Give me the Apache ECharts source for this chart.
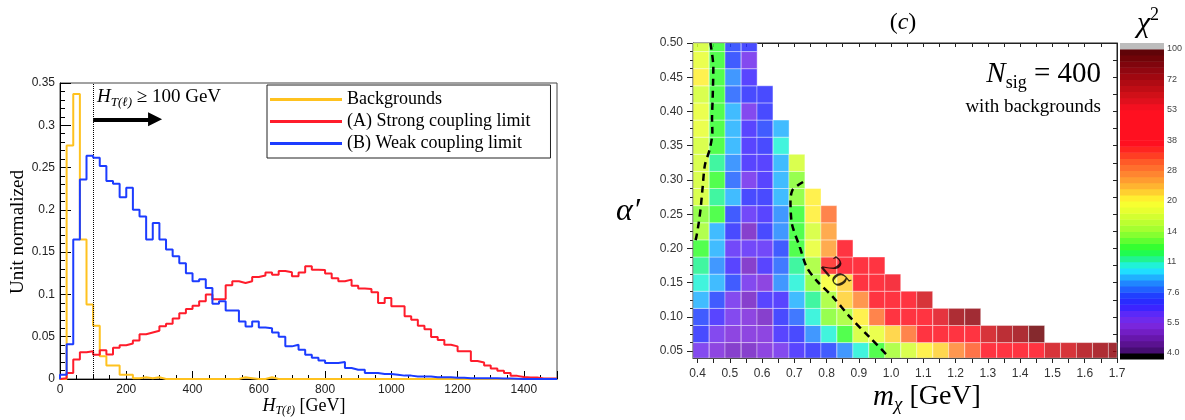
<!DOCTYPE html>
<html>
<head>
<meta charset="utf-8">
<script src="https://cdn.jsdelivr.net/npm/echarts@6.0.0/dist/echarts.min.js"></script>
<style>
html,body{margin:0;padding:0;background:#ffffff;}
#chart{width:1185px;height:420px;}
</style>
</head>
<body>
<div id="chart"></div>
<script>
// ================= LEFT PANEL DATA: H_T(l) distributions, 20 GeV bins =================
const binWidth = 20;
const htMax = 1500;
const htCut = 100;
const arrowEnd = 287;
const arrowLevel = 0.307;
const seriesNames = ['Backgrounds', '(A) Strong coupling limit', '(B) Weak coupling limit'];

const backgroundsValues = [
  0, 0.276, 0.337, 0.165, 0.088, 0.063, 0.027, 0.016, 0.016, 0.005,
  0.005, 0.001, 0.002, 0.001, 0.002, 0, 0, 0, 0, 0,
  0, 0, 0, 0, 0, 0, 0, 0.002, 0.001, 0,
  0, 0.002, 0, 0, 0, 0, 0, 0, 0, 0,
  0, 0, 0, 0, 0, 0, 0, 0, 0, 0,
  0, 0, 0, 0, 0, 0, 0, 0, 0, 0,
  0, 0, 0, 0, 0, 0, 0, 0, 0, 0,
  0, 0, 0, 0, 0
];
const strongValues = [
  0.001, 0.007, 0.023, 0.0315, 0.0327, 0.0288, 0.034, 0.029, 0.037, 0.040,
  0.042, 0.0455, 0.053, 0.055, 0.057, 0.0625, 0.0654, 0.0715, 0.0778, 0.0828,
  0.0867, 0.0919, 0.0998, 0.0942, 0.0946, 0.1108, 0.1155, 0.1136, 0.1155, 0.1207,
  0.1223, 0.126, 0.1234, 0.1277, 0.1262, 0.1215, 0.126, 0.1333, 0.1292, 0.1288,
  0.1248, 0.119, 0.1155, 0.1175, 0.1102, 0.107, 0.1065, 0.1025, 0.090, 0.0958,
  0.086, 0.086, 0.0741, 0.070, 0.063, 0.0587, 0.0497, 0.046, 0.0406, 0.0386,
  0.0327, 0.0327, 0.0212, 0.0195, 0.016, 0.0124, 0.0099, 0.0071, 0.0037, 0.0023,
  0.0019, 0.0019, 0.0005, 0.0005, 0.0005
];
const weakValues = [
  0.005, 0.041, 0.165, 0.236, 0.264, 0.2615, 0.252, 0.234, 0.231, 0.215,
  0.226, 0.200, 0.192, 0.165, 0.1845, 0.165, 0.153, 0.145, 0.137, 0.125,
  0.1155, 0.118, 0.1075, 0.089, 0.092, 0.081, 0.081, 0.068, 0.062, 0.068,
  0.061, 0.060, 0.055, 0.050, 0.0386, 0.0406, 0.0347, 0.0288, 0.025, 0.022,
  0.019, 0.019, 0.020, 0.013, 0.011, 0.011, 0.007, 0.007, 0.006, 0.006,
  0.005, 0.004, 0.004, 0.003, 0.003, 0.003, 0.002, 0.002, 0.002, 0.0015,
  0.0015, 0.001, 0.001, 0.001, 0.001, 0.0008, 0.0005, 0.0005, 0.0003, 0,
  0, 0, 0, 0, 0
];

// ================= RIGHT PANEL DATA: chi^2 map in (m_chi, alpha') =================
const massCenters = [0.411, 0.461, 0.510, 0.560, 0.609, 0.659, 0.708, 0.758, 0.807, 0.857,
  0.906, 0.956, 1.005, 1.055, 1.104, 1.154, 1.203, 1.253, 1.302, 1.352,
  1.401, 1.451, 1.500, 1.550, 1.599, 1.649, 1.698];
const alphaCenters = [0.05, 0.075, 0.1, 0.125, 0.15, 0.175, 0.2, 0.225, 0.25, 0.275,
  0.3, 0.325, 0.35, 0.375, 0.4, 0.425, 0.45, 0.475, 0.5];
// one row per alpha' value (bottom to top), cells from the lowest mass upward
const chi2Rows = [
  [5.6, 5.3, 5.1, 5.1, 5.3, 5.6, 6.3, 6.9, 7.4, 8.2, 9.9, 12.0, 15.0, 16.5, 20.0, 22.4, 25.9, 30.4, 42, 42, 42, 44, 62, 62, 68, 75, 80],
  [6.9, 5.6, 5.5, 5.4, 5.4, 6.4, 6.9, 8.5, 9.9, 12.0, 16.5, 18.2, 22.4, 27.6, 42, 42, 42, 52, 62, 68, 76, 91],
  [7.4, 6.3, 5.7, 5.5, 5.1, 6.9, 8.0, 10.5, 13.8, 15.2, 20.0, 27.6, 42, 42, 43, 58, 75, 80],
  [8.8, 7.3, 5.6, 5.1, 6.4, 6.4, 9.2, 11.2, 15.2, 22.4, 25.9, 42, 42, 42, 62],
  [9.9, 8.8, 7.3, 5.6, 5.3, 8.5, 9.9, 13.8, 19.0, 22.4, 40, 42, 55],
  [10.7, 8.5, 6.4, 5.1, 6.4, 8.0, 11.2, 15.0, 34, 42, 42, 42],
  [12.7, 9.2, 6.1, 6.1, 6.1, 7.3, 12.0, 18.2, 24.3, 42],
  [15.2, 9.2, 6.9, 5.1, 6.9, 8.5, 12.5, 16.8, 24.3],
  [14.0, 12.0, 7.4, 6.1, 6.4, 8.5, 12.7, 20.0, 27.6],
  [16.5, 10.7, 9.2, 6.9, 6.8, 9.2, 14.0, 21.3],
  [16.8, 12.0, 8.0, 5.6, 6.4, 9.2, 14.0],
  [17.5, 11.2, 8.5, 6.4, 6.3, 9.2, 16.5],
  [16.5, 12.7, 8.8, 6.4, 6.9, 9.9],
  [18.5, 12.7, 8.8, 6.4, 7.4, 9.2],
  [18.5, 12.0, 8.8, 5.6, 6.8],
  [17.5, 12.7, 8.0, 6.8, 6.8],
  [20.0, 12.5, 8.5, 6.4],
  [18.5, 12.5, 7.3, 5.7],
  [16.8, 12.0, 7.4, 6.9]
];
const massTickLabels = [0.4, 0.5, 0.6, 0.7, 0.8, 0.9, 1.0, 1.1, 1.2, 1.3, 1.4, 1.5, 1.6, 1.7];
const alphaTickLabels = [0.05, 0.10, 0.15, 0.20, 0.25, 0.30, 0.35, 0.40, 0.45, 0.50];
const chi2TickLabels = ['4.0', '5.5', '7.6', '11', '14', '20', '28', '38', '53', '72', '100'];
const contourLeft = [[0.440, 0.50], [0.449, 0.465], [0.447, 0.42], [0.445, 0.39], [0.446, 0.37],
  [0.438, 0.345], [0.423, 0.322], [0.416, 0.29], [0.410, 0.26], [0.404, 0.238], [0.396, 0.216], [0.389, 0.205]];
const contourRight = [[0.727, 0.297], [0.71, 0.292], [0.694, 0.285], [0.688, 0.27], [0.691, 0.24],
  [0.697, 0.228], [0.717, 0.202], [0.738, 0.173], [0.769, 0.153], [0.82, 0.129], [0.872, 0.1],
  [0.934, 0.07], [0.99, 0.043]];
const sigmaLabelPos = [0.828, 0.164];

// ================= palette (log chi^2 scale, 4 .. 100, 50 bands) =================
const chi2Min = 4, chi2Max = 100, nBands = 50;
const paletteStops = [
  [0.0, '#3c0a64'], [0.3, '#5a1290'], [0.6, '#6e1ab8'], [0.9, '#7a26dc'], [1.2, '#6a2cf4'],
  [1.5, '#3c24ff'], [1.8, '#2030ff'], [2.0, '#2050ff'], [2.2, '#2074ff'], [2.4, '#2098ff'],
  [2.6, '#20c8ff'], [2.8, '#20f4ff'], [3.0, '#20f0b0'], [3.2, '#20f870'], [3.4, '#20ff30'],
  [3.7, '#60ff30'], [4.0, '#98ff30'], [4.4, '#c8ff30'], [4.7, '#e8ff30'], [5.0, '#ffff30'],
  [5.2, '#ffe030'], [5.4, '#ffc030'], [5.6, '#ffa830'], [5.8, '#ff9030'], [6.0, '#ff7a30'],
  [6.3, '#ff5a28'], [6.6, '#ff3020'], [6.9, '#ff1020'], [8.0, '#ff1020'], [8.2, '#e81020'],
  [8.5, '#d01018'], [8.8, '#b80c14'], [9.1, '#a00810'], [9.4, '#880610'], [9.7, '#700408'],
  [10.0, '#580408']
];
function hexRgb(h) { return [parseInt(h.slice(1, 3), 16), parseInt(h.slice(3, 5), 16), parseInt(h.slice(5, 7), 16)]; }
function paletteAt(t) {
  if (t <= paletteStops[0][0]) return hexRgb(paletteStops[0][1]);
  for (let i = 1; i < paletteStops.length; i++) {
    if (t <= paletteStops[i][0]) {
      const a = paletteStops[i - 1], b = paletteStops[i];
      const f = (t - a[0]) / (b[0] - a[0]);
      const ca = hexRgb(a[1]), cb = hexRgb(b[1]);
      return ca.map((c, k) => Math.round(c + (cb[k] - c) * f));
    }
  }
  return hexRgb(paletteStops[paletteStops.length - 1][1]);
}
const bandStep = 10 / nBands;
const bandRgb = [];
for (let b = 0; b < nBands; b++) bandRgb.push(paletteAt((b + 0.5) * bandStep));
function chi2ToT(v) { return 10 * Math.log(v / chi2Min) / Math.log(chi2Max / chi2Min); }
function cellColor(v) {
  const t = chi2ToT(v);
  if (t < 0) return 'rgba(0,0,0,0.85)';
  const b = Math.min(nBands - 1, Math.floor(t / bandStep));
  const c = bandRgb[b];
  return 'rgba(' + c[0] + ',' + c[1] + ',' + c[2] + ',0.85)';
}

// ================= build series data =================
function stepData(vals) {
  const d = [[0, 0]];
  vals.forEach((v, k) => d.push([k * binWidth, v]));
  d.push([htMax, vals[vals.length - 1]]);
  return d;
}
const heatData = [];
chi2Rows.forEach((row, j) => row.forEach((v, i) => heatData.push([massCenters[i], alphaCenters[j], v])));
const cellW = 0.0495, cellH = 0.025;
const bandData = [[-0.2, 0, -1]];
for (let b = 0; b < nBands; b++) bandData.push([b * bandStep, (b + 1) * bandStep, b]);
bandData.push([10, 10.2, nBands]);

function range(a, b, s) { const r = []; for (let v = a; v <= b + 1e-9; v += s) r.push(Math.round(v * 10000) / 10000); return r; }
const massTicks = range(0.4, 1.7, 0.05);
const alphaMinorTicks = range(0.05, 0.5, 0.0125);
const alphaRightTicks = range(0.05, 0.5, 0.025);

const SERIF = '"Liberation Serif", "DejaVu Serif", serif';
const SANS = '"Liberation Sans", Arial, sans-serif';
const colors = { bg: '#ffc21f', strong: '#ff1c2b', weak: '#1c3cff' };

function textEl(x, y, text, rich, opt) {
  opt = opt || {};
  return {
    type: 'text', x: x, y: y, rotation: opt.rotation || 0, silent: true, z: 100,
    style: {
      text: text, rich: rich, fill: '#000',
      align: opt.align || 'center', textAlign: opt.align || 'center',
      verticalAlign: 'middle', textVerticalAlign: 'middle',
      fontFamily: SERIF, fontSize: opt.fontSize || 17
    }
  };
}
function rs(size, italic, extra) {
  return Object.assign({ fontFamily: SERIF, fontSize: size, fontStyle: italic ? 'italic' : 'normal', lineHeight: Math.round(size * 1.3), fill: '#000' }, extra || {});
}

const option = {
  animation: false,
  backgroundColor: '#ffffff',
  textStyle: { fontFamily: SANS },
  grid: [
    { left: 60, top: 83, width: 497, height: 296, show: true, borderColor: '#444', borderWidth: 1, backgroundColor: 'transparent' },
    { left: 693, top: 43, width: 424, height: 315, show: true, borderColor: '#222', borderWidth: 1, backgroundColor: 'transparent' },
    { left: 1120, top: 49, width: 46, height: 304, show: false }
  ],
  legend: {
    data: seriesNames, orient: 'vertical', left: 267, top: 85,
    padding: [5, 20, 5, 3], itemWidth: 72, itemHeight: 3, itemGap: 3, icon: 'rect',
    backgroundColor: '#ffffff', borderColor: '#222', borderWidth: 1, borderRadius: 0,
    selectedMode: false,
    textStyle: { fontFamily: SERIF, fontSize: 18, color: '#000', lineHeight: 19 }
  },
  xAxis: [
    { gridIndex: 0, type: 'value', min: 0, max: htMax, interval: 200, position: 'bottom',
      axisLine: { lineStyle: { color: '#000', width: 1 } },
      axisTick: { inside: true, length: 8, lineStyle: { color: '#000' } },
      axisLabel: { fontFamily: SANS, fontSize: 12, color: '#222', margin: 5,
        formatter: v => (v % 200 === 0 ? String(v) : '') },
      splitLine: { show: false } },
    { gridIndex: 0, type: 'value', min: 0, max: htMax, interval: 50, position: 'bottom',
      axisLine: { show: false },
      axisTick: { inside: true, length: 4, lineStyle: { color: '#000' } },
      axisLabel: { show: false }, splitLine: { show: false } },
    { gridIndex: 1, type: 'value', min: 0.386, max: 1.7, position: 'bottom',
      axisLine: { lineStyle: { color: '#222', width: 1 } },
      axisTick: { customValues: massTicks, length: 5, lineStyle: { color: '#222' } },
      axisLabel: { customValues: massTickLabels, fontFamily: SANS, fontSize: 12, color: '#333', margin: 10,
        formatter: v => v.toFixed(1) },
      splitLine: { show: false } },
    { gridIndex: 1, type: 'value', min: 0.386, max: 1.7, position: 'top',
      axisLine: { lineStyle: { color: '#222', width: 1 } },
      axisTick: { customValues: massTicks, inside: true, length: 4, lineStyle: { color: '#222' } },
      axisLabel: { show: false }, splitLine: { show: false } },
    { gridIndex: 2, type: 'value', min: 0, max: 1, show: false }
  ],
  yAxis: [
    { gridIndex: 0, type: 'value', min: 0, max: 0.35, interval: 0.05, position: 'left',
      axisLine: { lineStyle: { color: '#000', width: 1 } },
      axisTick: { inside: true, length: 11, lineStyle: { color: '#000' } },
      minorTick: { show: true, splitNumber: 5, length: 5, lineStyle: { color: '#000' } },
      axisLabel: { fontFamily: SANS, fontSize: 12, color: '#222', margin: 5 },
      splitLine: { show: false } },
    { gridIndex: 1, type: 'value', min: 0.04, max: 0.5, position: 'left',
      axisLine: { lineStyle: { color: '#222', width: 1 } },
      axisTick: { customValues: alphaTickLabels, length: 6, lineStyle: { color: '#222' } },
      axisLabel: { customValues: alphaTickLabels, fontFamily: SANS, fontSize: 12, color: '#333', margin: 10,
        formatter: v => v.toFixed(2) },
      splitLine: { show: false } },
    { gridIndex: 1, type: 'value', min: 0.04, max: 0.5, position: 'left',
      axisLine: { show: false },
      axisTick: { customValues: alphaMinorTicks, length: 3, lineStyle: { color: '#222' } },
      axisLabel: { show: false }, splitLine: { show: false } },
    { gridIndex: 1, type: 'value', min: 0.04, max: 0.5, position: 'right',
      axisLine: { lineStyle: { color: '#222', width: 1 } },
      axisTick: { customValues: alphaRightTicks, inside: true, length: 4, lineStyle: { color: '#222' } },
      axisLabel: { show: false }, splitLine: { show: false } },
    { gridIndex: 2, type: 'value', min: 0, max: 10, interval: 1, position: 'right',
      axisLine: { show: false }, axisTick: { show: false },
      axisLabel: { fontFamily: SANS, fontSize: 9, color: '#444', margin: 3,
        formatter: v => chi2TickLabels[Math.round(v)] },
      splitLine: { show: false } }
  ],
  series: [
    { name: seriesNames[0], type: 'line', xAxisIndex: 0, yAxisIndex: 0, step: 'end', symbol: 'none',
      data: stepData(backgroundsValues), color: colors.bg, lineStyle: { color: colors.bg, width: 2 }, z: 3 },
    { name: seriesNames[1], type: 'line', xAxisIndex: 0, yAxisIndex: 0, step: 'end', symbol: 'none',
      data: stepData(strongValues), color: colors.strong, lineStyle: { color: colors.strong, width: 2 }, z: 4 },
    { name: seriesNames[2], type: 'line', xAxisIndex: 0, yAxisIndex: 0, step: 'end', symbol: 'none',
      data: stepData(weakValues), color: colors.weak, lineStyle: { color: colors.weak, width: 2 }, z: 5 },
    { type: 'line', xAxisIndex: 0, yAxisIndex: 0, data: [], symbol: 'none',
      markLine: { silent: true, symbol: ['none', 'none'], label: { show: false },
        lineStyle: { type: 'dotted', color: '#000', width: 1 },
        data: [{ xAxis: htCut }] } },
    { type: 'line', xAxisIndex: 0, yAxisIndex: 0, data: [], symbol: 'none',
      markLine: { silent: true, symbol: ['none', 'triangle'], symbolSize: 14, label: { show: false },
        lineStyle: { type: 'solid', color: '#000', width: 4 },
        itemStyle: { color: '#000' },
        data: [[{ coord: [htCut, arrowLevel] }, { coord: [arrowEnd, arrowLevel] }]] } },
    { type: 'custom', xAxisIndex: 2, yAxisIndex: 1, data: heatData, z: 2,
      renderItem: function (params, api) {
        const x = api.value(0), y = api.value(1), v = api.value(2);
        const a = api.coord([x - cellW / 2, y + cellH / 2]);
        const b = api.coord([x + cellW / 2, y - cellH / 2]);
        const cs = params.coordSys;
        const shape = echarts.graphic.clipRectByRect(
          { x: a[0], y: a[1], width: b[0] - a[0], height: b[1] - a[1] },
          { x: cs.x, y: cs.y, width: cs.width, height: cs.height });
        if (!shape) return null;
        return { type: 'rect', shape: shape, style: { fill: cellColor(v), stroke: 'rgba(255,255,255,0.5)', lineWidth: 0.8 } };
      } },
    { type: 'line', xAxisIndex: 2, yAxisIndex: 1, data: contourLeft, symbol: 'none', smooth: 0.3, z: 6,
      lineStyle: { color: '#000', width: 2.5, type: [7, 5] } },
    { type: 'line', xAxisIndex: 2, yAxisIndex: 1, data: contourRight, symbol: 'none', smooth: 0.3, z: 6,
      lineStyle: { color: '#000', width: 2.5, type: [7, 5] } },
    { type: 'scatter', xAxisIndex: 2, yAxisIndex: 1, data: [sigmaLabelPos], symbolSize: 1, z: 7,
      itemStyle: { color: 'rgba(0,0,0,0)' },
      label: { show: true, position: 'inside', formatter: '{a|2}{b|σ}', rotate: -50,
        rich: { a: { fontFamily: SERIF, fontSize: 30, color: '#000' }, b: { fontFamily: SERIF, fontSize: 30, fontStyle: 'italic', color: '#000' } } } },
    { type: 'custom', xAxisIndex: 4, yAxisIndex: 4, data: bandData, clip: false, z: 2,
      renderItem: function (params, api) {
        const lo = api.value(0), hi = api.value(1), idx = api.value(2);
        const a = api.coord([0, hi]);
        const b = api.coord([1, lo]);
        let fill;
        if (idx < 0) fill = '#000000';
        else if (idx >= nBands) fill = '#bdbdbd';
        else { const c = bandRgb[idx]; fill = 'rgb(' + c[0] + ',' + c[1] + ',' + c[2] + ')'; }
        return { type: 'rect', shape: { x: a[0], y: a[1], width: b[0] - a[0], height: b[1] - a[1] + 0.5 }, style: { fill: fill } };
      } }
  ],
  graphic: [
    textEl(97, 97, '{i|H}{s|T(ℓ)}{n| ≥ 100 GeV}',
      { i: rs(19, true, { lineHeight: 24 }), s: rs(13, true, { lineHeight: 12, verticalAlign: 'bottom' }), n: rs(19, false, { lineHeight: 24 }) },
      { align: 'left' }),
    textEl(304, 406, '{i|H}{s|T(ℓ)}{n| [GeV]}',
      { i: rs(18, true, { lineHeight: 22 }), s: rs(12, true, { lineHeight: 12, verticalAlign: 'bottom' }), n: rs(18, false, { lineHeight: 22 }) }),
    textEl(18, 232, '{n|Unit normalized}', { n: rs(19, false) }, { rotation: Math.PI / 2 }),
    textEl(903, 23, '{n|(}{i|c}{n|)}', { n: rs(24, false), i: rs(24, true) }),
    textEl(1148, 24, '{i|χ}{s|2}', { i: rs(30, true, { lineHeight: 36 }), s: rs(18, false, { lineHeight: 18, verticalAlign: 'top' }) }),
    textEl(1101, 74, '{i|N}{s|sig}{n| = 400}',
      { i: rs(29, true, { lineHeight: 36 }), s: rs(18, false, { lineHeight: 18, verticalAlign: 'bottom' }), n: rs(29, false, { lineHeight: 36 }) },
      { align: 'right' }),
    textEl(1101, 107, '{n|with backgrounds}', { n: rs(19, false) }, { align: 'right' }),
    textEl(628, 212, '{i|α′}', { i: rs(32, true) }),
    textEl(927, 397, '{i|m}{s|χ}{n| [GeV]}',
      { i: rs(29, true, { lineHeight: 34 }), s: rs(19, true, { lineHeight: 18, verticalAlign: 'bottom' }), n: rs(28, false, { lineHeight: 34 }) })
  ]
};

const chart = echarts.init(document.getElementById('chart'), null, { renderer: 'canvas', width: 1185, height: 420 });
chart.setOption(option);
</script>
</body>
</html>
